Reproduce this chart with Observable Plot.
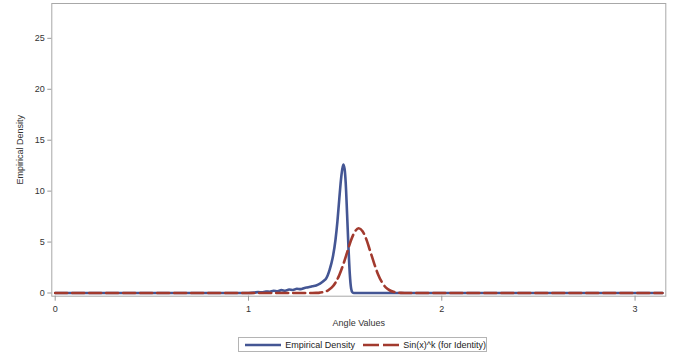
<!DOCTYPE html>
<html><head><meta charset="utf-8">
<script src="https://cdn.jsdelivr.net/npm/d3@7"></script>
<script src="https://cdn.jsdelivr.net/npm/@observablehq/plot@0.6"></script>
<style>
html,body{margin:0;padding:0;background:#fff;font-family:"Liberation Sans",Arial,sans-serif;}
#wrap{width:673px;height:358px;position:relative;overflow:hidden}
#legend{position:absolute;left:238px;top:337px;width:249px;height:15px;border:1px solid #b4b4b4;box-sizing:border-box;font-size:9px;color:#222;display:flex;align-items:center;white-space:nowrap}
#legend svg{display:block}
</style></head>
<body><div id="wrap"><div id="chart"></div><div id="legend"></div></div>
<script>
// Empirical density (blue)
const empX = [0, 1.0, 1.03, 1.05, 1.07, 1.09, 1.11, 1.13, 1.15, 1.17, 1.19, 1.21, 1.23, 1.25, 1.27, 1.29, 1.31, 1.33, 1.35, 1.37, 1.39, 1.40, 1.41, 1.42, 1.435, 1.45, 1.46, 1.47, 1.48, 1.49, 1.497, 1.503, 1.51, 1.517, 1.524, 1.531, 1.538, 1.545, 3.1416];
const empY = [0, 0, 0.04, 0.09, 0.06, 0.15, 0.12, 0.22, 0.17, 0.28, 0.22, 0.34, 0.3, 0.42, 0.38, 0.5, 0.56, 0.66, 0.74, 0.92, 1.2, 1.38, 1.75, 2.3, 3.4, 5.2, 7.0, 9.3, 11.4, 12.6, 12.2, 10.8, 7.8, 4.6, 1.9, 0.45, 0.06, 0, 0];
// Sin(x)^k (for Identity) (red dashed)
const sinX = [0, 1.30, 1.33, 1.35, 1.37, 1.39, 1.41, 1.43, 1.45, 1.47, 1.49, 1.51, 1.53, 1.55, 1.57, 1.59, 1.61, 1.63, 1.65, 1.67, 1.69, 1.71, 1.73, 1.75, 1.77, 1.79, 1.81, 1.84, 3.1416];
const sinY = [0, 0, 0.004, 0.014, 0.04, 0.10, 0.24, 0.52, 1.01, 1.77, 2.78, 3.97, 5.15, 6.01, 6.36, 6.07, 5.25, 4.09, 2.91, 1.85, 1.07, 0.55, 0.27, 0.115, 0.043, 0.015, 0.005, 0, 0];
const xTicks = [0, 1, 2, 3];
const yTicks = [0, 5, 10, 15, 20, 25];
const seriesNames = ["Empirical Density", "Sin(x)^k (for Identity)"];
const seriesColors = ["#445694", "#A23A2E"];

const emp = empX.map((x, i) => ({x, y: empY[i]}));
const sin = sinX.map((x, i) => ({x, y: sinY[i]}));

const chart = Plot.plot({
  width: 673, height: 333,
  marginLeft: 51.3, marginRight: 7.7, marginTop: 3, marginBottom: 37.3,
  style: {fontFamily: "'Liberation Sans', Arial, sans-serif", fontSize: "9px", color: "#333", background: "#fff"},
  x: {domain: [-0.0176, 3.159]},
  y: {domain: [-0.314, 28.42]},
  marks: [
    Plot.frame({stroke: "#a8a8a8"}),
    Plot.axisX({ticks: xTicks, tickSize: 5, tickPadding: 4, stroke: "#999", tickFormat: d => String(d), label: "Angle Values", labelAnchor: "center", labelArrow: "none", labelOffset: 30}),
    Plot.axisY({ticks: yTicks, tickSize: 4, tickPadding: 3, stroke: "#999", label: "Empirical Density", labelAnchor: "center", labelArrow: "none", labelOffset: 35}),
    Plot.line(emp, {x: "x", y: "y", stroke: seriesColors[0], strokeWidth: 2.6, curve: "monotone-x"}),
    Plot.line(sin, {x: "x", y: "y", stroke: seriesColors[1], strokeWidth: 2.6, strokeDasharray: "12,5", curve: "monotone-x"})
  ]
});
document.getElementById("chart").appendChild(chart);

const lg = document.getElementById("legend");
seriesNames.forEach((name, i) => {
  const s = document.createElementNS("http://www.w3.org/2000/svg", "svg");
  s.setAttribute("width", 40); s.setAttribute("height", 10);
  s.style.marginLeft = i === 0 ? "6px" : "8px";
  s.style.marginRight = "4px";
  const l = document.createElementNS("http://www.w3.org/2000/svg", "line");
  l.setAttribute("x1", 0); l.setAttribute("x2", 40); l.setAttribute("y1", 5); l.setAttribute("y2", 5);
  l.setAttribute("stroke", seriesColors[i]); l.setAttribute("stroke-width", 2.6);
  if (i === 1) l.setAttribute("stroke-dasharray", "16,4");
  s.appendChild(l);
  lg.appendChild(s);
  const t = document.createElement("span");
  t.textContent = name;
  lg.appendChild(t);
});
</script></body></html>
